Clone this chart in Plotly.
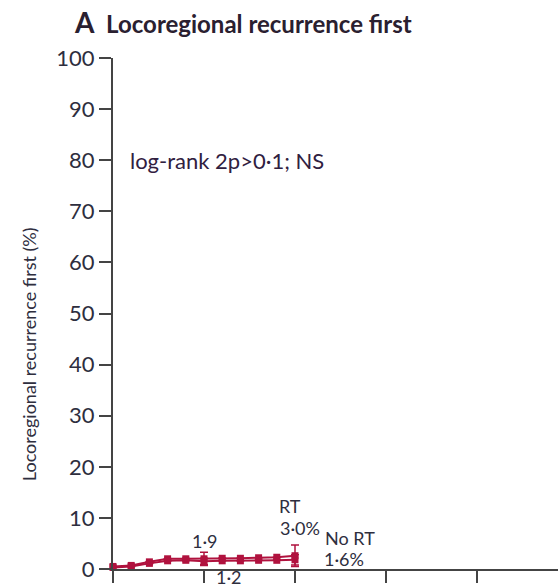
import plotly.graph_objects as go

years = [0, 1, 2, 3, 4, 5, 6, 7, 8, 9, 10]
rt = [0.5, 0.7, 1.4, 2.0, 2.0, 2.0, 2.1, 2.1, 2.2, 2.3, 2.6]
no_rt = [0.3, 0.5, 1.1, 1.6, 1.7, 1.5, 1.6, 1.6, 1.7, 1.7, 1.8]
rt_err = [0, 0, 0, 0, 0, 1.3, 0, 0, 0, 0, 2.1]
no_rt_err = [0, 0, 0, 0, 0, 0.6, 0, 0, 0, 0, 1.0]
yticks = [0, 10, 20, 30, 40, 50, 60, 70, 80, 90, 100]
xticks = [0, 5, 10, 15, 20]

red = "#b0123e"
font = "Lato, sans-serif"
txt = "#2e2e3e"

fig = go.Figure()
for vals, err in [(no_rt, no_rt_err), (rt, rt_err)]:
    fig.add_trace(go.Scatter(
        x=years, y=vals, mode="lines+markers",
        line=dict(color=red, width=2),
        marker=dict(symbol="square", size=7, color=red),
        error_y=dict(type="data", array=err, arrayminus=err, visible=True,
                     color=red, thickness=1.5, width=4),
        cliponaxis=False, showlegend=False))

# (text, x in years, y in %, size)
labels = [
    ("1·9", 5.05, 5.4, 18),
    ("1·2", 6.4, -1.6, 18),
    ("RT", 9.7, 12.3, 18),
    ("3·0%", 10.3, 8.1, 18),
    ("No RT", 13.0, 6.1, 18),
    ("1·6%", 12.7, 2.0, 18),
]
X0, X1 = 0, 24.45
annotations = [dict(x=(x - X0) / (X1 - X0), y=y / 100, xref="paper", yref="paper",
                    text=t, showarrow=False, xanchor="center", yanchor="middle",
                    font=dict(family=font, size=s, color=txt))
               for t, x, y, s in labels]
annotations.append(dict(x=(0.85 - X0) / (X1 - X0), y=0.80, xref="paper", yref="paper",
                        text="log-rank 2p>0·1; NS", showarrow=False,
                        xanchor="left", yanchor="middle",
                        font=dict(family=font, size=22, color="#302040")))
annotations.append(dict(
    x=-0.187, y=0.42, xref="paper", yref="paper", showarrow=False,
    text="Locoregional recurrence first (%)", textangle=-90,
    xanchor="center", yanchor="middle",
    font=dict(family=font, size=18, color=txt)))

fig.update_layout(
    width=558, height=587,
    margin=dict(l=113, r=0, t=58, b=18),
    paper_bgcolor="white", plot_bgcolor="white",
    title=dict(text="<b><span style='font-size:28px'>A</span>  Locoregional recurrence first</b>",
               x=75/558, xanchor="left", y=1 - 25/587, yanchor="middle",
               font=dict(family=font, size=24, color="#2a2030")),
    annotations=annotations,
    xaxis=dict(range=[X0, X1], tickvals=xticks, showticklabels=False,
               ticks="outside", ticklen=12, tickwidth=2, tickcolor="#444",
               showline=True, linecolor="#444", linewidth=2,
               showgrid=False, zeroline=False),
    yaxis=dict(range=[0, 100], tickvals=yticks, ticks="outside", ticklen=12,
               tickwidth=2, tickcolor="#444", showline=True, linecolor="#444",
               linewidth=2, showgrid=False, zeroline=False,
               tickfont=dict(family=font, size=22, color=txt)),
)

fig.write_html("out.html")
